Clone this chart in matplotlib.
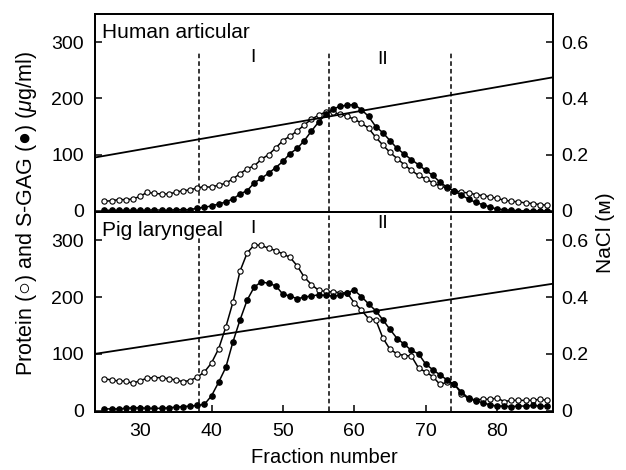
import numpy as np
import matplotlib.pyplot as plt

plt.rcParams['font.family'] = ['Liberation Sans', 'DejaVu Sans']
plt.rcParams['mathtext.fontset'] = 'custom'
plt.rcParams['mathtext.rm'] = 'Liberation Sans'
plt.rcParams['mathtext.it'] = 'Liberation Sans:italic'

# fraction numbers (one point per fraction)
fractions = np.arange(25, 88)

# Human articular, ug/ml
human_protein = [17, 18, 20, 20, 21, 26, 33, 31, 30, 30, 33, 36, 37, 41, 43, 42, 46, 49, 57, 66,
                 75, 80, 92, 100, 112, 125, 133, 142, 153, 163, 170, 176, 175, 172, 168, 163, 156, 147, 131, 117,
                 104, 93, 82, 72, 63, 57, 50, 44, 41, 36, 33, 32, 29, 27, 25, 22, 19, 17, 16, 14,
                 13, 11, 10]
human_gag = [1, 1, 1, 1, 1, 1, 1, 2, 1, 1, 2, 2, 2, 5, 6, 9, 12, 16, 21, 30,
             36, 50, 58, 67, 77, 88, 102, 111, 125, 142, 158, 172, 181, 186, 188, 189, 180, 168, 150, 139,
             125, 111, 101, 91, 82, 72, 63, 51, 42, 35, 28, 21, 15, 11, 7, 3, 2, 1, 0, 0,
             0, 0, 0]

# Pig laryngeal, ug/ml
pig_protein = [56, 54, 52, 52, 48, 53, 57, 58, 58, 56, 54, 51, 53, 59, 68, 84, 109, 147, 191, 246,
               278, 292, 291, 286, 282, 276, 270, 255, 235, 222, 212, 210, 209, 208, 207, 190, 177, 162, 160, 128,
               108, 100, 97, 96, 75, 68, 60, 46, 50, 47, 30, 21, 19, 20, 20, 22, 16, 18, 18, 18,
               18, 20, 18]
pig_gag = [3, 3, 3, 4, 5, 5, 4, 4, 4, 5, 6, 7, 8, 9, 11, 26, 50, 76, 121, 160,
           195, 218, 227, 224, 220, 205, 202, 197, 200, 202, 204, 203, 202, 203, 208, 212, 201, 188, 176, 160,
           143, 127, 117, 106, 100, 82, 72, 63, 54, 46, 33, 22, 17, 14, 10, 8, 8, 7, 8, 8,
           9, 8, 8]

# NaCl gradient (M)
nacl_fraction = [23.7, 87.8]
human_nacl = [0.19, 0.475]
pig_nacl = [0.2, 0.447]

peak_bounds = [38.2, 56.5, 73.6]
peak_names = ['I', 'II']
peak_name_x = [45.8, 64.0]

fig = plt.figure(figsize=(6.26, 4.70), dpi=100)
ax_top = fig.add_axes([0.152, 0.549, 0.731, 0.421])
ax_bot = fig.add_axes([0.152, 0.124, 0.731, 0.425], sharex=ax_top)


def draw_panel(ax, protein, gag, nacl, title, dash_tops, name_y):
    ax.plot(fractions, protein, '-o', color='black', lw=1.1, ms=3.8,
            mfc='white', mec='black', mew=0.8, zorder=3)
    ax.plot(fractions, gag, '-o', color='black', lw=1.1, ms=3.8,
            mfc='black', mec='black', zorder=4)
    for xb, top in zip(peak_bounds, dash_tops):
        ax.plot([xb, xb], [0, top], ls=(0, (3, 2)), color='black', lw=1.1)
    for name, xn, yn in zip(peak_names, peak_name_x, name_y):
        ax.text(xn, yn, name, ha='center', va='center', fontsize=14)
    ax.text(0.015, 0.955, title, transform=ax.transAxes, ha='left', va='top', fontsize=15)
    ax.set_xlim(23.7, 87.8)
    ax.set_ylim(-2, 350)
    ax.set_yticks([0, 100, 200, 300])
    ax.tick_params(direction='in', length=5, width=1.1, labelsize=14, pad=8)
    for sp in ax.spines.values():
        sp.set_linewidth(1.3)

    axr = ax.twinx()
    axr.plot(nacl_fraction, nacl, color='black', lw=1.3)
    axr.set_ylim(-2 / 500, 350 / 500)
    axr.set_yticks([0, 0.2, 0.4, 0.6])
    axr.set_yticklabels(['0', '0.2', '0.4', '0.6'])
    axr.tick_params(direction='in', length=5, width=1.1, labelsize=14, pad=6)
    for sp in axr.spines.values():
        sp.set_linewidth(1.3)
    return axr


draw_panel(ax_top, human_protein, human_gag, human_nacl, 'Human articular',
           [284, 284, 284], [273, 270])
draw_panel(ax_bot, pig_protein, pig_gag, pig_nacl, 'Pig laryngeal',
           [306, 350, 350], [320, 330])

ax_top.tick_params(axis='x', bottom=False, labelbottom=False)
ax_bot.set_xticks([30, 40, 50, 60, 70, 80])
ax_bot.set_xlabel('Fraction number', fontsize=14.5, labelpad=6)

fig.text(0.042, 0.545, 'Protein (○) and S-GAG (●) ($\\mathit{\\mu}$g/ml)',
         rotation=90, ha='center', va='center', fontsize=15.5,
         family=['Liberation Sans', 'Noto Sans CJK JP', 'DejaVu Sans'])
fig.text(0.968, 0.505, 'NaCl (ᴍ)', rotation=90, ha='center', va='center', fontsize=15)

fig.savefig('out.png', dpi=100)
